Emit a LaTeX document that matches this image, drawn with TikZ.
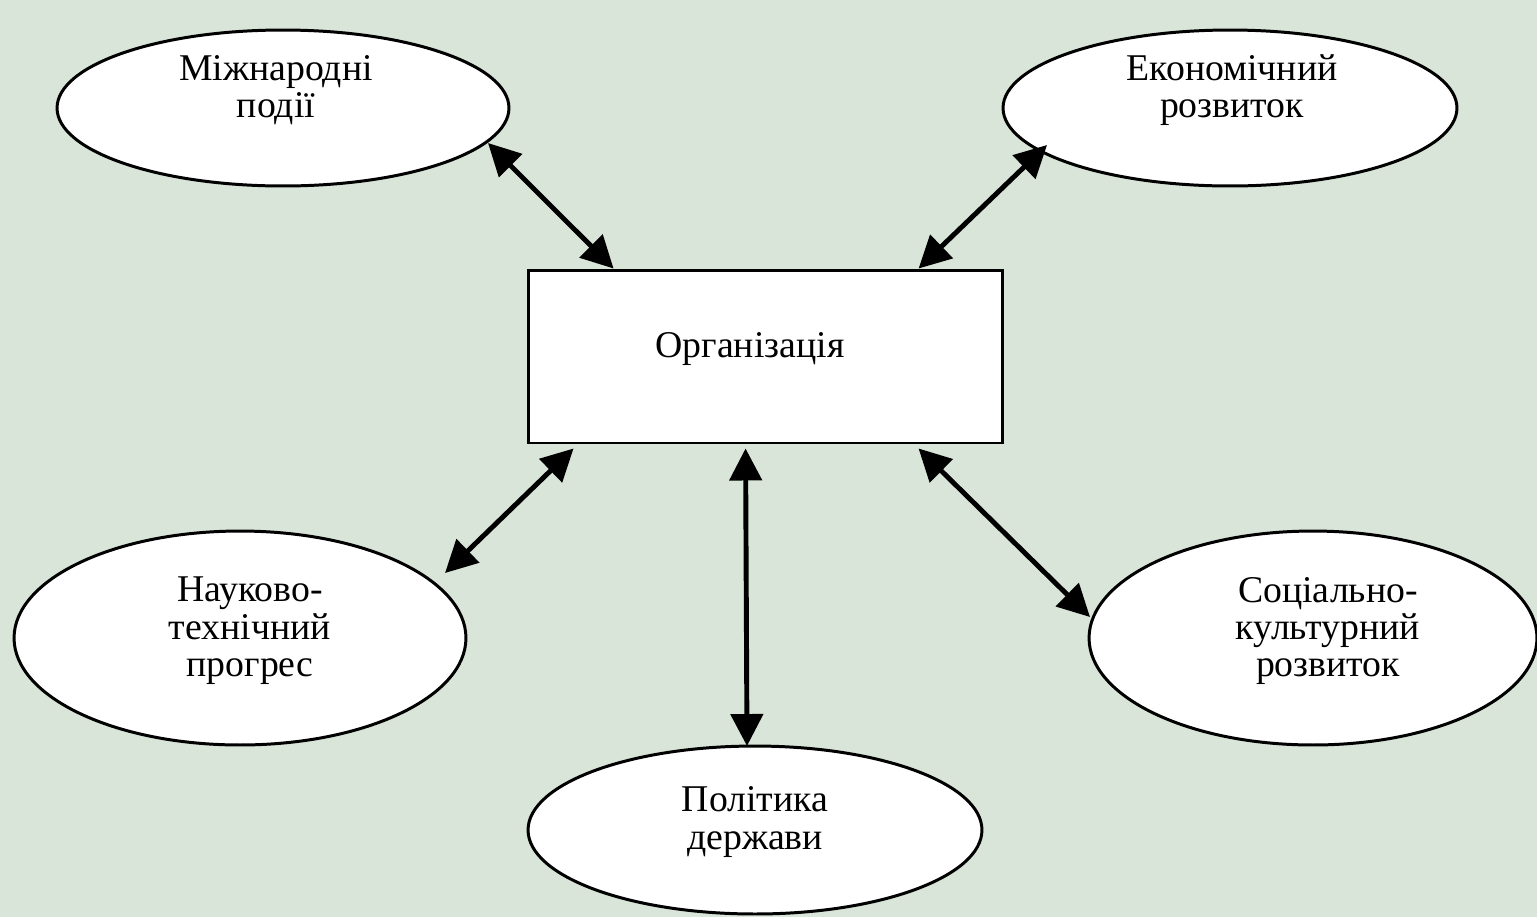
\documentclass[tikz,border=0pt]{standalone}
\usepackage{fontspec}
\setmainfont{Liberation Serif}
\usetikzlibrary{shapes.geometric,arrows.meta,calc}
\definecolor{bg}{HTML}{D9E5D9}
\tikzset{
  oval/.style={ellipse, draw=black, fill=white, line width=1.7pt, inner sep=0pt},
  orgbox/.style={rectangle, draw=black, fill=white, line width=1.7pt, inner sep=0pt,
    minimum width=9.5cm, minimum height=3.46cm},
  lbl/.style={align=center, font=\fontsize{21.5}{21.3}\selectfont, inner sep=0pt},
  link/.style={line width=2.8pt, {Triangle[length=0.64cm,width=0.64cm]}-{Triangle[length=0.64cm,width=0.64cm]}}
}
\begin{document}
\begin{tikzpicture}[x=0.02cm,y=-0.02cm]
\path[fill=bg,use as bounding box] (0,0) rectangle (1537,917);
\node[oval, minimum width=9.04cm, minimum height=3.12cm] (mizh) at (283,108) {};
\node[oval, minimum width=9.08cm, minimum height=3.12cm] (econ) at (1230,108) {};
\node[oval, minimum width=9.04cm, minimum height=4.28cm] (nauk) at (240,638) {};
\node[oval, minimum width=8.96cm, minimum height=4.28cm] (soc) at (1313,638) {};
\node[oval, minimum width=9.08cm, minimum height=3.36cm] (polit) at (755,830) {};
\node[orgbox] (org) at (765.5,356.5) {};
\node[lbl] (tmizh) at (276,90) {Міжнародні\\події};
\node[lbl] (tecon) at (1232,90) {Економічний\\розвиток};
\node[lbl] (torg) at (750,349) {Організація};
\node[lbl] (tnauk) at (250,631) {Науково-\\технічний\\прогрес};
\node[lbl] (tsoc) at (1328,631) {Соціально-\\культурний\\розвиток};
\node[lbl] (tpolit) at (755,822) {Політика\\держави};
\draw[link] ($(mizh.center)+(205,35)$) -- ($(org.north west)+(87,0)$);
\draw[link] ($(econ.center)+(-183,37)$) -- ($(org.north west)+(392,0)$);
\draw[link] ($(org.south west)+(47,4)$) -- ($(nauk.center)+(205,-65)$);
\draw[link] ($(org.south west)+(219,4)$) -- ($(polit.center)+(-8,-84)$);
\draw[link] ($(org.south west)+(392,4)$) -- ($(soc.center)+(-223,-21)$);
\end{tikzpicture}
\end{document}
